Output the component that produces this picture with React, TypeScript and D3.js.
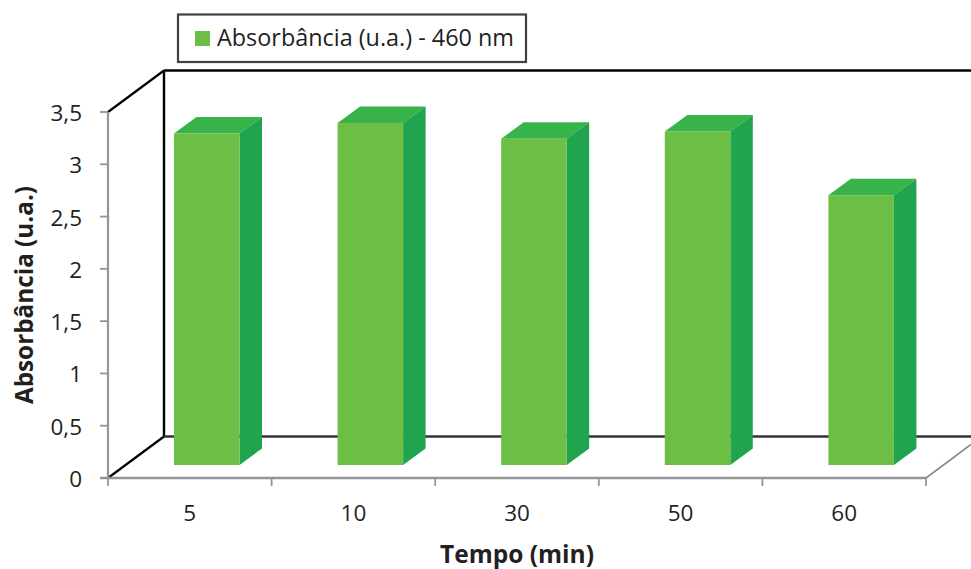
import React from "react";
import * as d3 from "d3";

const categories = ["5", "10", "30", "50", "60"];
const absorbance = [3.17, 3.27, 3.12, 3.19, 2.58];
const yTicks = [0, 0.5, 1, 1.5, 2, 2.5, 3, 3.5];
const yTickLabels = ["0", "0,5", "1", "1,5", "2", "2,5", "3", "3,5"];
const seriesName = "Absorbância (u.a.) - 460 nm";
const yTitle = "Absorbância (u.a.)";
const xTitle = "Tempo (min)";

const font = "'Open Sans', sans-serif";
const textColor = "#231f20";
const axisColor = "#939598";

export default function App() {
  const y = d3.scaleLinear().domain([0, 3.5]).range([478, 112]);
  const x = d3.scaleBand<string>().domain(categories).range([108, 926]);
  const depthX = 56;
  const depthY = 41.5;
  const baseLift = 13;
  const barW = 65.5;
  const barDX = 22.5;
  const barDY = 16.5;
  const barInset = 66;
  const h = (v: number) => y(0) - y(v);

  return (
    <svg width={971} height={569} style={{ position: "fixed", left: 0, top: 0, display: "block", background: "#fff" }}>
      {/* back walls */}
      <line x1={108} y1={y(3.5)} x2={108 + depthX} y2={y(3.5) - depthY} stroke="#000" strokeWidth={2.2} />
      <line x1={108 + depthX} y1={y(3.5) - depthY} x2={971} y2={y(3.5) - depthY} stroke="#000" strokeWidth={2.6} />
      <line x1={108 + depthX} y1={y(3.5) - depthY} x2={108 + depthX} y2={y(0) - depthY} stroke="#000" strokeWidth={2.4} />
      <line x1={108 + depthX} y1={y(0) - depthY} x2={971} y2={y(0) - depthY} stroke="#333" strokeWidth={2.4} />
      <line x1={108} y1={y(0)} x2={108 + depthX} y2={y(0) - depthY} stroke="#000" strokeWidth={2.2} />
      <line x1={926} y1={y(0)} x2={971} y2={y(0) - 33.5} stroke="#8a8c8e" strokeWidth={1.8} />

      {/* axes */}
      <line x1={108} y1={y(3.5)} x2={108} y2={y(0)} stroke={axisColor} strokeWidth={2.2} />
      <line x1={100} y1={y(0)} x2={926} y2={y(0)} stroke={axisColor} strokeWidth={2.6} />
      {yTicks.map((t, i) => (
        <g key={t}>
          <line x1={100} x2={108} y1={y(t)} y2={y(t)} stroke={axisColor} strokeWidth={1.8} />
          <text x={82} y={y(t) + 9} textAnchor="end" fontFamily={font} fontSize={22.5} fill={textColor}>
            {yTickLabels[i]}
          </text>
        </g>
      ))}
      {[...categories.map((c) => x(c)!), 926].map((px) => (
        <line key={px} x1={px} x2={px} y1={y(0)} y2={y(0) + 8} stroke={axisColor} strokeWidth={1.8} />
      ))}
      {categories.map((c) => (
        <text key={c} x={x(c)! + x.bandwidth() / 2} y={521} textAnchor="middle" fontFamily={font} fontSize={22.5} fill={textColor}>
          {c}
        </text>
      ))}

      {/* bars */}
      {categories.map((c, i) => {
        const bx = x(c)! + barInset;
        const bottom = y(0) - baseLift;
        const top = bottom - h(absorbance[i]);
        return (
          <g key={c}>
            <polygon
              points={`${bx},${top} ${bx + barDX},${top - barDY} ${bx + barW + barDX},${top - barDY} ${bx + barW},${top}`}
              fill="#37b34a"
            />
            <polygon
              points={`${bx + barW},${top} ${bx + barW + barDX},${top - barDY} ${bx + barW + barDX},${bottom - barDY} ${bx + barW},${bottom}`}
              fill="#20a44d"
            />
            <rect x={bx} y={top} width={barW} height={bottom - top} fill="#6cbe45" />
          </g>
        );
      })}

      {/* titles */}
      <text
        transform="translate(33,295) rotate(-90)"
        textAnchor="middle"
        fontFamily={font}
        fontWeight={700}
        fontSize={24.3}
        fill={textColor}
      >
        {yTitle}
      </text>
      <text x={517} y={563} textAnchor="middle" fontFamily={font} fontWeight={700} fontSize={24.5} fill={textColor}>
        {xTitle}
      </text>

      {/* legend */}
      <rect x={178} y={14.5} width={348} height={47.5} fill="#fff" stroke="#414042" strokeWidth={2.2} />
      <rect x={195} y={31} width={15} height={15} fill="#6cbe45" />
      <text x={217} y={46} fontFamily={font} fontSize={23.4} fill={textColor}>
        {seriesName}
      </text>
    </svg>
  );
}
